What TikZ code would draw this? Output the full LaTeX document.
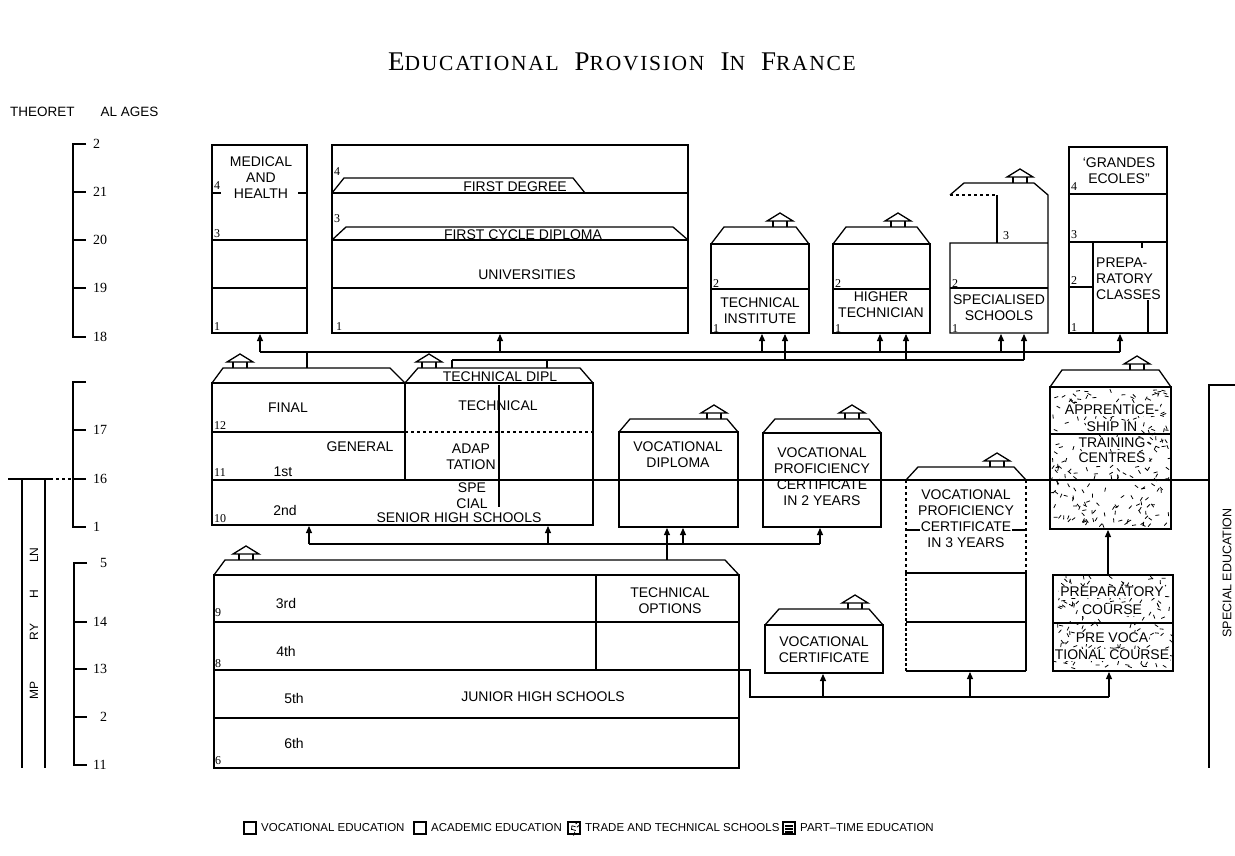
\documentclass[tikz,border=0pt]{standalone}
\usepackage{fontspec}
\setmainfont{Liberation Serif}
\setsansfont{Liberation Sans}
\usetikzlibrary{arrows.meta}
\newcommand\mkroof[5]{\draw[bx] (#1,#3) -- ({#1+#5},#4) -- ({#2-#5},#4) -- (#2,#3);}
\newcommand\mkhouse[2]{\draw[bx,line join=miter] ({#1-13},{#2-6}) -- (#1,{#2-14}) -- ({#1+13},{#2-6}) -- cycle; \draw[bx] ({#1-7},{#2-6}) -- ({#1-7},#2) ({#1+7},{#2-6}) -- ({#1+7},#2);}
\newcommand\stipple[5]{\foreach \k in {1,...,#5}{\pgfmathsetmacro\sx{#1+2+rnd*(#3-#1-4)}\pgfmathsetmacro\sy{#2+2+rnd*(#4-#2-4)}\pgfmathsetmacro\sa{rnd*360}\draw[line width=0.8pt] (\sx,\sy) -- ++(\sa:4);}}
\newfontfamily\ttlfont[LetterSpace=8]{Liberation Serif}
\newcommand\scw[2]{{\fontsize{27}{27}\selectfont #1}{\fontsize{21.5}{21.5}\selectfont #2}}
\begin{document}
\begin{tikzpicture}[x=1pt,y=-1pt,
 bx/.style={line width=1.3pt},
 tk/.style={line width=2.4pt},
 ln/.style={line width=1.1pt},
 arr/.style={line width=1.1pt,-{Triangle[length=7pt,width=6pt]}},
 lbl/.style={font=\sffamily\fontsize{14}{16}\selectfont,inner sep=0pt,align=center},
 wl/.style={lbl,fill=white,inner sep=1pt},
 rn/.style={font=\fontsize{12}{12}\selectfont,inner sep=0pt,anchor=south west},
 ag/.style={font=\fontsize{14}{14}\selectfont,inner sep=0pt,anchor=west},
 lg/.style={font=\sffamily\fontsize{11.5}{12}\selectfont,inner sep=0pt,anchor=west},
]
\useasboundingbox (0,0) rectangle (1235,855);
\pgfmathsetseed{12}
% ---------- title ----------
\node[inner sep=0pt,font=\ttlfont] (title) at (622,62) {\scw{E}{DUCATIONAL}\hspace{16pt}\scw{P}{ROVISION}\hspace{16pt}\scw{I}{N}\hspace{16pt}\scw{F}{RANCE}};
\node[lg,font=\sffamily\fontsize{13.5}{14}\selectfont] (theo) at (10,112) {THEORET\hspace{26pt}AL AGES};
% ---------- age axis ----------
\draw[bx] (86,144) -- (73,144) -- (73,337) -- (86,337);
\foreach \y in {192,240,288} \draw[bx] (73,\y) -- (86,\y);
\draw[bx] (86,382) -- (73,382) -- (73,527) -- (86,527);
\foreach \y in {430,479} \draw[bx] (73,\y) -- (86,\y);
\draw[bx] (87,563) -- (74,563) -- (74,765) -- (87,765);
\foreach \y in {622,669,717} \draw[bx] (74,\y) -- (87,\y);
\node[ag] (a22) at (93,144) {2};
\node[ag] (a21) at (93,192) {21};
\node[ag] (a20) at (93,240) {20};
\node[ag] (a19) at (93,288) {19};
\node[ag] (a18) at (93,337) {18};
\node[ag] (a17) at (93,430) {17};
\node[ag] (a16) at (93,479) {16};
\node[ag] (a15) at (93,527) {1};
\node[ag] (b15) at (100,563) {5};
\node[ag] (a14) at (93,622) {14};
\node[ag] (a13) at (93,669) {13};
\node[ag] (a12) at (100,717) {2};
\node[ag] (a11) at (93,765) {11};
% compulsory bar
\draw[tk] (8,479) -- (50,479);
\draw[bx,dashed] (50,479) -- (73,479);
\draw[bx] (22,479) -- (22,768) (45,479) -- (45,768);
\node[lbl,rotate=90,font=\sffamily\fontsize{12}{12}\selectfont] (c1) at (34,690) {MP};
\node[lbl,rotate=90,font=\sffamily\fontsize{12}{12}\selectfont] (c2) at (34,632) {RY};
\node[lbl,rotate=90,font=\sffamily\fontsize{12}{12}\selectfont] (c3) at (34,594) {H};
\node[lbl,rotate=90,font=\sffamily\fontsize{12}{12}\selectfont] (c4) at (34,555) {LN};
% long age-16 line
\draw[line width=1.8pt] (212,480) -- (1209,480);
% ---------- top row ----------
% medical
\draw[bx] (212,145) rectangle (307,333);
\draw[bx] (212,240) -- (307,240) (212,288) -- (307,288) (212,193) -- (221,193) (298,193) -- (307,193);
\node[lbl] (med) at (261,178) {MEDICAL\\AND\\HEALTH};
\node[rn] (m4) at (214,190) {4};
\node[rn] (m3) at (214,238) {3};
\node[rn] (m1) at (214,331) {1};
% universities
\draw[bx] (332,145) rectangle (688,333);
\draw[bx] (332,193) -- (688,193) (332,240) -- (688,240) (332,288) -- (688,288);
\draw[bx] (332,193) -- (344,178) -- (573,178) -- (585,193);
\draw[bx] (332,240) -- (346,227) -- (673,227) -- (688,240);
\node[lbl] (fd) at (515,187) {FIRST DEGREE};
\node[lbl] (fcd) at (523,235) {FIRST CYCLE DIPLOMA};
\node[lbl] (uni) at (527,275) {UNIVERSITIES};
\node[rn] (u4) at (334,176) {4};
\node[rn] (u3) at (334,223) {3};
\node[rn] (u1) at (336,331) {1};
% technical institute
\mkroof{711}{809}{244}{227}{13}
\draw[bx] (711,244) rectangle (809,333) (711,289) -- (809,289);
\mkhouse{780}{227}
\node[lbl] (ti) at (760,311) {TECHNICAL\\INSTITUTE};
\node[rn] (ti2) at (713,288) {2};
\node[rn] (ti1) at (713,333) {1};
% higher technician
\mkroof{833}{930}{244}{227}{13}
\draw[bx] (833,244) rectangle (930,333) (833,289) -- (930,289);
\mkhouse{898}{227}
\node[lbl] (ht) at (881,305) {HIGHER\\TECHNICIAN};
\node[rn] (ht2) at (835,288) {2};
\node[rn] (ht1) at (835,333) {1};
% specialised schools
\draw[bx] (950,195) -- (964,183) -- (1034,183) -- (1048,195) -- (1048,333) -- (950,333) -- (950,243) -- (1048,243);
\draw[bx,dashed] (950,195) -- (997,195);
\draw[bx] (997,195) -- (997,243) (950,288) -- (1048,288);
\mkhouse{1020}{183}
\node[lbl] (ss) at (999,308) {SPECIALISED\\SCHOOLS};
\node[rn] (ss3) at (1003,240) {3};
\node[rn] (ss2) at (952,288) {2};
\node[rn] (ss1) at (952,333) {1};
% grandes ecoles
\draw[bx] (1069,147) rectangle (1167,333);
\draw[bx] (1069,194) -- (1167,194) (1069,242) -- (1167,242) (1069,287) -- (1093,287) (1093,242) -- (1093,333);
\draw[bx] (1142,242) -- (1142,248) (1148,300) -- (1148,333);
\node[lbl] (ge) at (1119,171) {`GRANDES\\ECOLES''};
\node[lbl,align=left,anchor=west] (pc) at (1096,279) {PREPA-\\RATORY\\CLASSES};
\node[rn] (g4) at (1071,191) {4};
\node[rn] (g3) at (1071,239) {3};
\node[rn] (g2) at (1071,285) {2};
\node[rn] (g1) at (1071,332) {1};
% ---------- upper connectors ----------
\coordinate (ub1) at (260,352); \coordinate (ub2) at (1120,352);
\coordinate (lb1) at (452,360); \coordinate (lb2) at (1024,360);
\draw[ln] (ub1) -- (ub2);
\draw[ln] (lb1) -- (lb2);
\foreach \x in {260,500,762,880,1001,1120} \draw[arr] (\x,352) -- (\x,334);
\foreach \x in {785,906,1024} \draw[arr] (\x,360) -- (\x,334);
\draw[ln] (307,352) -- (307,368);
\draw[ln] (452,360) -- (452,368) (547,360) -- (547,368);
% ---------- senior high ----------
\draw[bx] (212,383) -- (223,368) -- (390,368) -- (405,383);
\draw[bx] (405,383) -- (418,368) -- (580,368) -- (593,383);
\draw[bx] (212,383) rectangle (593,525);
\draw[bx] (405,383) -- (405,480) (212,432) -- (405,432);
\draw[bx,dashed] (405,432) -- (593,432);
\draw[ln] (499,385) -- (499,507);
\mkhouse{240}{368}
\mkhouse{429}{368}
\node[lbl] (tdipl) at (500,377) {TECHNICAL DIPL};
\node[lbl] (fin) at (288,408) {FINAL};
\node[lbl] (tec) at (498,406) {TECHNICAL};
\node[lbl] (gen) at (360,447) {GENERAL};
\node[lbl] (adap) at (471,457) {ADAP\\TATION};
\node[lbl] (first) at (283,472) {1st};
\node[lbl] (spe) at (472,496) {SPE\\CIAL};
\node[lbl] (sec) at (285,510) {2nd};
\node[lbl] (shs) at (459,518) {SENIOR HIGH SCHOOLS};
\node[rn] (s12) at (214,430) {12};
\node[rn] (s11) at (214,477) {11};
\node[rn] (s10) at (214,523) {10};
% ---------- vocational diploma ----------
\mkroof{619}{738}{432}{419}{11}
\draw[bx] (619,432) rectangle (738,527);
\mkhouse{714}{419}
\node[lbl] (vd) at (678,455) {VOCATIONAL\\DIPLOMA};
% ---------- vocational proficiency 2 yrs ----------
\mkroof{763}{881}{433}{419}{12}
\draw[tk] (763,433) rectangle (881,527);
\mkhouse{852}{419}
\node[lbl] (vp2) at (822,477) {VOCATIONAL\\PROFICIENCY\\CERTIFICATE\\IN 2 YEARS};
% ---------- vocational proficiency 3 yrs ----------
\mkroof{906}{1026}{480}{467}{12}
\mkhouse{997}{467}
\draw[bx,dashed] (906,480) -- (906,573) (1026,480) -- (1026,573);
\draw[bx] (906,530) -- (1026,530);
\draw[tk] (906,573) -- (1026,573) (906,671) -- (1026,671);
\draw[bx] (906,622) -- (1026,622);
\draw[bx,densely dashed] (906,573) -- (906,671);
\draw[tk] (1026,573) -- (1026,671);
\node[lbl] (vp3a) at (966,503) {VOCATIONAL\\PROFICIENCY};
\node[wl] (vp3b) at (966,527) {CERTIFICATE};
\node[lbl] (vp3c) at (966,543) {IN 3 YEARS};
% ---------- apprenticeship ----------
\mkroof{1050}{1171}{387}{370}{12}
\mkhouse{1137}{370}
\stipple{1050}{387}{1171}{529}{260}
\draw[tk] (1050,387) rectangle (1171,529);
\draw[tk] (1050,434) -- (1171,434);
\node[wl] (ap1) at (1112,410) {APPRENTICE-};
\node[wl] (ap2) at (1112,427) {SHIP IN};
\node[wl] (ap3) at (1112,443) {TRAINING};
\node[wl] (ap4) at (1112,458) {CENTRES};
% ---------- special education ----------
\draw[bx] (1235,385) -- (1209,385) -- (1209,768);
\node[lbl,rotate=90,font=\sffamily\fontsize{12.5}{12.5}\selectfont] (spec) at (1227,573) {SPECIAL EDUCATION};
% ---------- junior high ----------
\draw[bx] (214,575) -- (225,560) -- (725,560) -- (739,575);
\draw[bx] (214,575) rectangle (739,768);
\draw[bx] (214,622) -- (739,622) (214,670) -- (739,670) (214,718) -- (739,718) (596,575) -- (596,670);
\mkhouse{246}{560}
\node[lbl] (r3) at (286,603) {3rd};
\node[lbl] (r4) at (286,651) {4th};
\node[lbl] (r5) at (294,698) {5th};
\node[lbl] (r6) at (294,743) {6th};
\node[lbl] (jhs) at (543,697) {JUNIOR HIGH SCHOOLS};
\node[lbl] (to) at (670,601) {TECHNICAL\\OPTIONS};
\node[rn] (j9) at (215,617) {9};
\node[rn] (j8) at (215,668) {8};
\node[rn] (j6) at (215,765) {6};
% ---------- vocational certificate ----------
\mkroof{765}{883}{625}{609}{14}
\draw[tk] (765,625) rectangle (883,673);
\mkhouse{855}{609}
\node[lbl] (vc) at (824,650) {VOCATIONAL\\CERTIFICATE};
% ---------- preparatory courses ----------
\stipple{1053}{575}{1173}{671}{180}
\draw[tk] (1053,575) rectangle (1173,671) (1053,623) -- (1173,623);
\node[wl] (pr1) at (1112,592) {PREPARATORY};
\node[wl] (pr2) at (1112,610) {COURSE};
\node[wl] (pr3) at (1112,638) {PRE VOCA};
\node[wl] (pr4) at (1112,655) {TIONAL COURSE};
\draw[arr] (1108,575) -- (1108,530);
% ---------- middle connectors ----------
\coordinate (mb1) at (309,544); \coordinate (mb2) at (820,544);
\draw[ln] (mb1) -- (mb2);
\foreach \x in {309,548} \draw[arr] (\x,544) -- (\x,526);
\foreach \x in {683,820} \draw[arr] (\x,544) -- (\x,528);
\draw[arr] (667,560) -- (667,528);
% ---------- lower connectors ----------
\draw[ln] (739,670) -- (750,670) -- (750,697) -- (1109,697);
\draw[arr] (823,697) -- (823,674);
\draw[arr] (970,697) -- (970,672);
\draw[arr] (1109,697) -- (1109,672);
% ---------- legend ----------
\draw[tk] (244,822) rectangle (256,834);
\node[lg] (l1) at (261,828) {VOCATIONAL EDUCATION};
\draw[bx] (414,822) rectangle (426,834);
\node[lg] (l2) at (431,828) {ACADEMIC EDUCATION};
\stipple{568}{822}{580}{834}{6}
\draw[bx] (568,822) rectangle (580,834);
\node[lg] (l3) at (585,828) {TRADE AND TECHNICAL SCHOOLS};
\draw[tk] (783,822) rectangle (795,834);
\draw[ln] (785,826) -- (793,826) (785,829) -- (793,829) (785,832) -- (793,832);
\node[lg] (l4) at (800,828) {PART--TIME EDUCATION};
\end{tikzpicture}
\end{document}
